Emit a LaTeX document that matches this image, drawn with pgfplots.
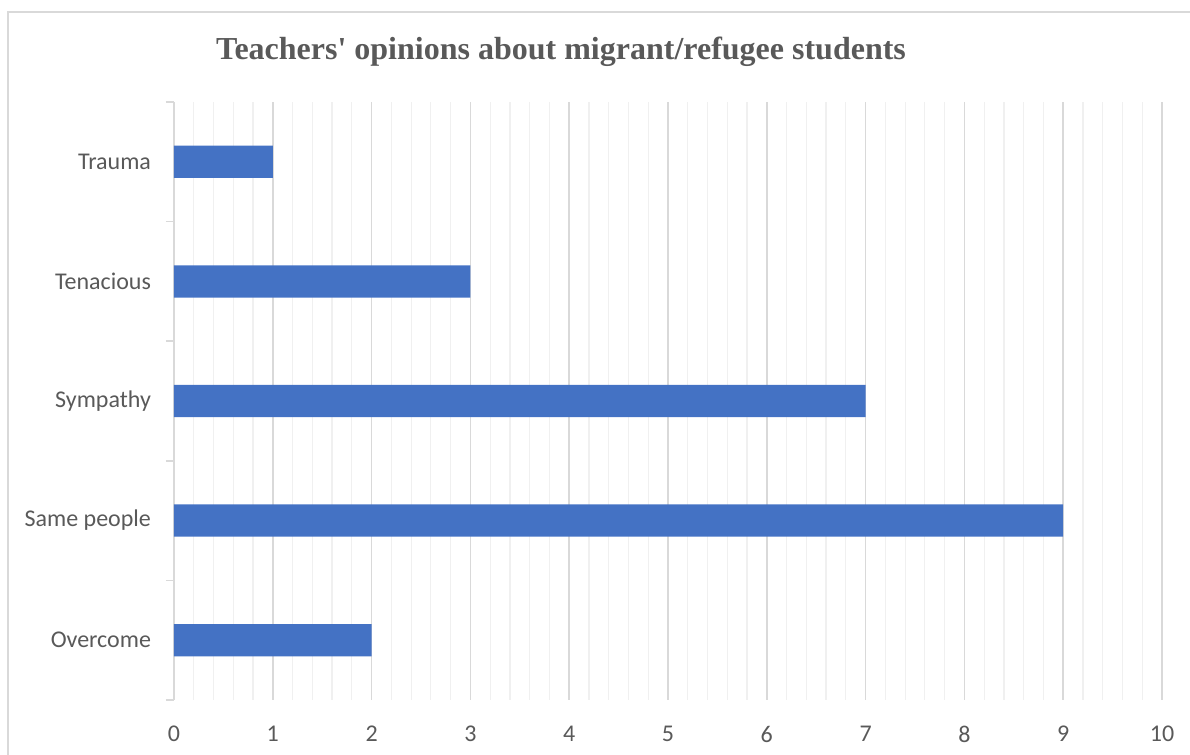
\documentclass[border=0pt]{standalone}
\usepackage{pgfplots}
\pgfplotsset{compat=1.18}
\usepackage{fontspec}
\setmainfont{Carlito}
\newfontfamily\titlefont{Liberation Serif}
\definecolor{barc}{HTML}{4472C4}
\definecolor{txt}{HTML}{595959}
\definecolor{majorc}{HTML}{D9D9D9}
\definecolor{minorc}{HTML}{F0F0F0}
\begin{document}
\begin{tikzpicture}
\begin{scope}[x=0.5pt,y=0.5pt]
\path[use as bounding box] (0,0) rectangle (1190,755);
\draw[majorc, line width=1pt] (8,-5) -- (8,743) -- (1195,743);
\node[font=\titlefont\bfseries\fontsize{16}{18}\selectfont, text=txt, anchor=base] at (561,695) {Teachers' opinions about migrant/refugee students};
\end{scope}
\begin{axis}[at={(87pt,27.5pt)}, anchor=south west, scale only axis,
  width=494pt, height=299pt,
  xbar, xmin=0, xmax=10, ymin=-0.5, ymax=4.5,
  bar width=0.27,
  axis x line=bottom, axis y line=left,
  x axis line style={draw=none},
  y axis line style={majorc, line width=0.75pt, -},
  xtick={0,...,10}, minor x tick num=4,
  xmajorgrids, xminorgrids,
  major grid style={majorc, line width=0.75pt},
  minor grid style={minorc, line width=0.6pt},
  major tick length=0pt,
  minor tick length=4pt,
  tick align=outside,
  minor x tick style={draw=none},
  ytick={0,...,4},
  yticklabels={Overcome,Same people,Sympathy,Tenacious,Trauma},
  minor ytick={-0.5,0.5,...,4.5},
  minor y tick style={majorc, line width=0.75pt},
  /pgf/number format/assume math mode=true,
  tick label style={font=\fontsize{12}{14}\selectfont, text=txt},
  xticklabel style={yshift=-9.5pt},
  yticklabel style={xshift=-8pt},
  clip=false,
]
\addplot[fill=barc, draw=none] coordinates {(2,0) (9,1) (7,2) (3,3) (1,4)};
\end{axis}
\end{tikzpicture}
\end{document}
